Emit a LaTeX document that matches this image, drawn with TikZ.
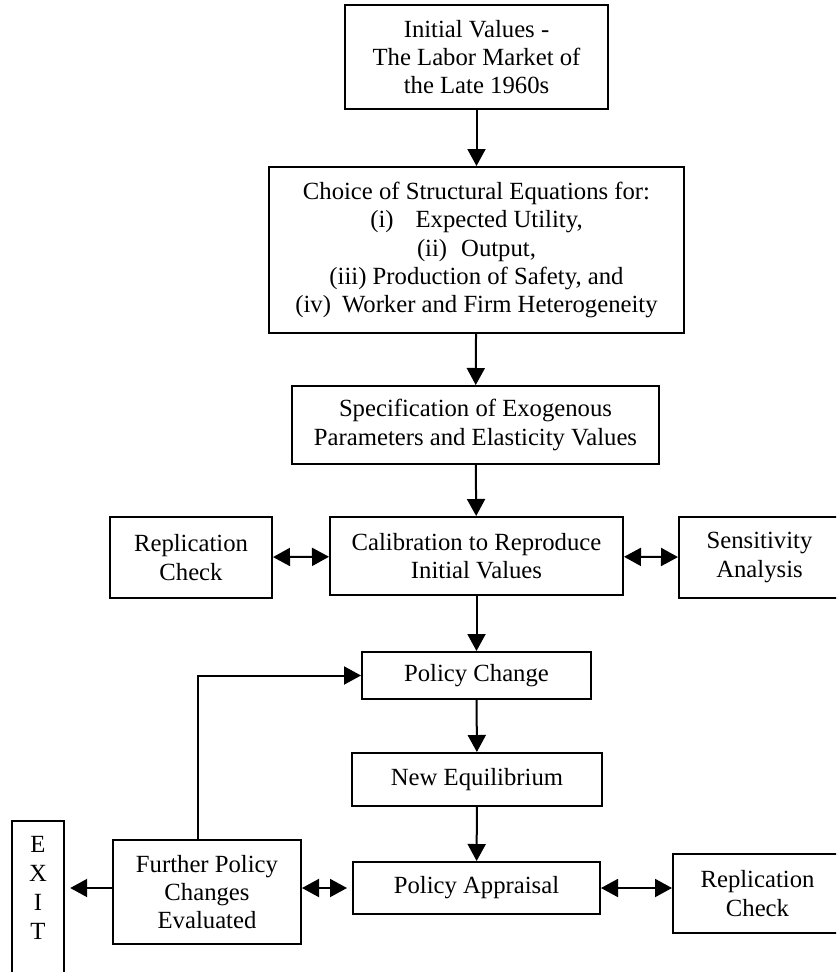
\documentclass[tikz,border=0pt]{standalone}
\usepackage{fontspec}
\setmainfont{Liberation Serif}
\usetikzlibrary{arrows.meta}
\begin{document}
\begin{tikzpicture}[x=1pt,y=-1pt,
  box/.style={draw, line width=2pt, inner sep=0pt, align=center,
    font=\fontsize{24.7}{28.3}\selectfont},
  plain/.style={inner sep=0pt, align=center, font=\fontsize{24.7}{28.9}\selectfont},
  arr/.style={line width=2pt, -{Triangle[length=17pt,width=18pt]}},
  darr/.style={line width=2pt, {Triangle[length=17pt,width=18pt]}-{Triangle[length=17pt,width=18pt]}}]
\useasboundingbox (0,0) rectangle (836,972);
\clip (0,0) rectangle (836,972);

\node[box, minimum width=263pt, minimum height=104pt] (init) at (476.5,57)
  {Initial Values -\\The Labor Market of\\the Late 1960s};
\node[box, minimum width=415pt, minimum height=166pt] (choice) at (476.5,250)
  {Choice of Structural Equations for:\\
   (i)\hspace{22pt}Expected Utility,\\
   (ii)\hspace{14pt}Output,\\
   (iii) Production of Safety, and\\
   (iv)\hspace{11pt}Worker and Firm Heterogeneity};
\node[box, minimum width=367pt, minimum height=78pt] (spec) at (475.5,425)
  {Specification of Exogenous\\Parameters and Elasticity Values};
\node[box, minimum width=293pt, minimum height=78pt] (calib) at (476.5,556)
  {Calibration to Reproduce\\Initial Values};
\node[box, minimum width=162pt, minimum height=81pt] (repl) at (191,557.5)
  {Replication\\Check};
\node[box, minimum width=161pt, minimum height=81pt] (sens) at (759.5,557.5)
  {Sensitivity\\Analysis};
\node[box, minimum width=229pt, minimum height=47pt] (polchange) at (476.5,675.5)
  {Policy Change};
\node[box, minimum width=250pt, minimum height=53pt] (neweq) at (477,779.5)
  {New Equilibrium};
\node[box, minimum width=247pt, minimum height=52pt] (appraisal) at (476.5,888)
  {Policy Appraisal};
\node[box, minimum width=169pt, minimum height=79pt] (repltwo) at (757.5,893.5)
  {Replication\\Check};
\node[box, minimum width=188pt, minimum height=104pt] (further) at (207,892)
  {Further Policy\\Changes\\Evaluated};
\node[plain, minimum width=52pt, minimum height=134pt] (exit) at (38,888)
  {E\\X\\I\\T};
\draw[line width=2pt] (exit.west |- 0,1000) -- (exit.north west)
  -- (exit.north east) -- (exit.east |- 0,1000);

\draw[arr] (init) -- (choice);
\draw[arr] (choice) -- (spec);
\draw[arr] (spec) -- (calib);
\draw[arr] (calib) -- (polchange);
\draw[arr] (polchange) -- (neweq);
\draw[arr] (neweq) -- (appraisal);
\draw[darr] (repl) -- (calib);
\draw[darr] (calib) -- (sens);
\draw[darr, shorten >=5pt] (further.east |- appraisal.west) -- (appraisal.west);
\draw[darr] (appraisal.east) -- (repltwo.west |- appraisal.east);
\draw[arr, shorten >=6pt] (further.west |- appraisal.west) -- (exit.east |- appraisal.west);
\draw[arr] ([xshift=-9pt]further.north) |- (polchange.west);
\end{tikzpicture}
\end{document}
